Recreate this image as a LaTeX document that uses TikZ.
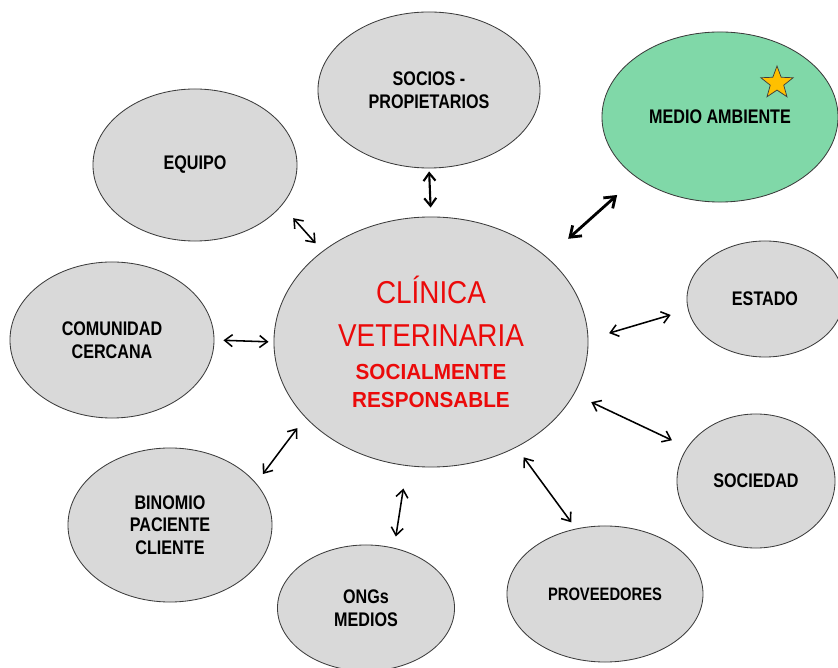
\documentclass[tikz,border=0pt]{standalone}
\usepackage{fontspec}
\usepackage{xcolor}
\usepackage{tikz}
\usetikzlibrary{shapes,arrows.meta,positioning}
\newfontfamily\narrowsans[FakeStretch=0.82]{Liberation Sans}
\newfontfamily\centersans[FakeStretch=0.88]{Liberation Sans}
\newfontfamily\boldsans[FakeStretch=0.95]{Liberation Sans}
\definecolor{grisfondo}{RGB}{217,217,217}
\definecolor{grisborde}{RGB}{60,60,60}
\definecolor{verdemedio}{RGB}{128,216,168}
\definecolor{rojoclinica}{RGB}{235,10,10}
\definecolor{oroestrella}{RGB}{255,192,0}

\begin{document}
\begin{tikzpicture}[x=0.025cm, y=-0.025cm,
    grupo/.style={ellipse, draw=grisborde, fill=grisfondo, line width=0.6pt, inner sep=0pt,
        align=center, font=\narrowsans\bfseries\fontsize{14}{16}\selectfont},
    enlace/.style={{Straight Barb[length=5.5pt,width=8.5pt]}-{Straight Barb[length=5.5pt,width=8.5pt]}, line width=1.1pt},
    enlacegrueso/.style={{Straight Barb[length=7pt,width=10pt]}-{Straight Barb[length=7pt,width=10pt]}, line width=2pt}]
    \useasboundingbox (0,0) rectangle (838,668);

    % Nodo central
    \node[grupo, text=rojoclinica, font=\boldsans\bfseries\fontsize{15.5}{20}\selectfont,
        minimum width=7.85cm, minimum height=6.25cm] (clinica) at (431,342)
        {\centersans\mdseries\fontsize{22.5}{20}\selectfont CLÍNICA\\[10.5pt]
         \centersans\mdseries\fontsize{22.5}{20}\selectfont VETERINARIA\\[3.4pt]
         \boldsans\bfseries\fontsize{15.5}{20}\selectfont SOCIALMENTE\\
         \boldsans\bfseries\fontsize{15.5}{20}\selectfont RESPONSABLE};

    % Grupos de interes
    \node[grupo, minimum width=5.55cm, minimum height=3.9cm] (socios) at (429,90) {SOCIOS -\\PROPIETARIOS};
    \node[grupo, fill=verdemedio, minimum width=5.9cm, minimum height=4.25cm] (medio) at (720,117) {MEDIO AMBIENTE};
    \node[grupo, minimum width=5.1cm, minimum height=3.8cm] (equipo) at (195,165) {EQUIPO};
    \node[grupo, minimum width=5.1cm, minimum height=3.9cm] (comunidad) at (112,340) {COMUNIDAD\\CERCANA};
    \node[grupo, minimum width=3.9cm, minimum height=2.9cm] (estado) at (765,299) {ESTADO};
    \node[grupo, minimum width=3.95cm, minimum height=3.35cm] (sociedad) at (756,481) {SOCIEDAD};
    \node[grupo, font=\narrowsans\bfseries\fontsize{12.8}{16}\selectfont,
        minimum width=4.9cm, minimum height=3.4cm] (proveedores) at (605,594) {PROVEEDORES};
    \node[grupo, minimum width=4.425cm, minimum height=3.15cm] (ongs) at (366,608) {ONGs\\MEDIOS};
    \node[grupo, minimum width=5.1cm, minimum height=3.85cm] (binomio) at (170,525) {BINOMIO\\PACIENTE\\CLIENTE};

    % Estrella
    \node[star, star points=5, star point ratio=2.4, draw=grisborde, fill=oroestrella,
        line width=0.5pt, minimum size=0.85cm, inner sep=0pt] (estrella) at (777,83) {};

    % Flechas
    \draw[enlace, line width=1.5pt, shorten <=0.075cm, shorten >=0.225cm] (socios.south) -- (clinica.north);
    \draw[enlacegrueso, shorten <=0.65cm, shorten >=0.7cm] (medio.-144) -- (clinica.36);
    \draw[enlace, shorten <=0.425cm, shorten >=0.26cm] (equipo.-25) -- (clinica.140);
    \draw[enlace, shorten <=0.225cm, shorten >=0.125cm] (comunidad.east) -- (clinica.west);
    \draw[enlace, shorten <=0.45cm, shorten >=0.54cm] (estado.-172) -- (clinica.1.6);
    \draw[enlace, shorten <=0.42cm, shorten >=0.47cm] (sociedad.154) -- (clinica.-20.5);
    \draw[enlace, shorten <=0.195cm, shorten >=0.305cm] (proveedores.114) -- (clinica.-51);
    \draw[enlace, shorten <=0.285cm, shorten >=0.57cm] (ongs.65) -- (clinica.-101);
    \draw[enlace, shorten <=0.28cm, shorten >=0.33cm] (binomio.26) -- (clinica.-149.5);
\end{tikzpicture}
\end{document}
